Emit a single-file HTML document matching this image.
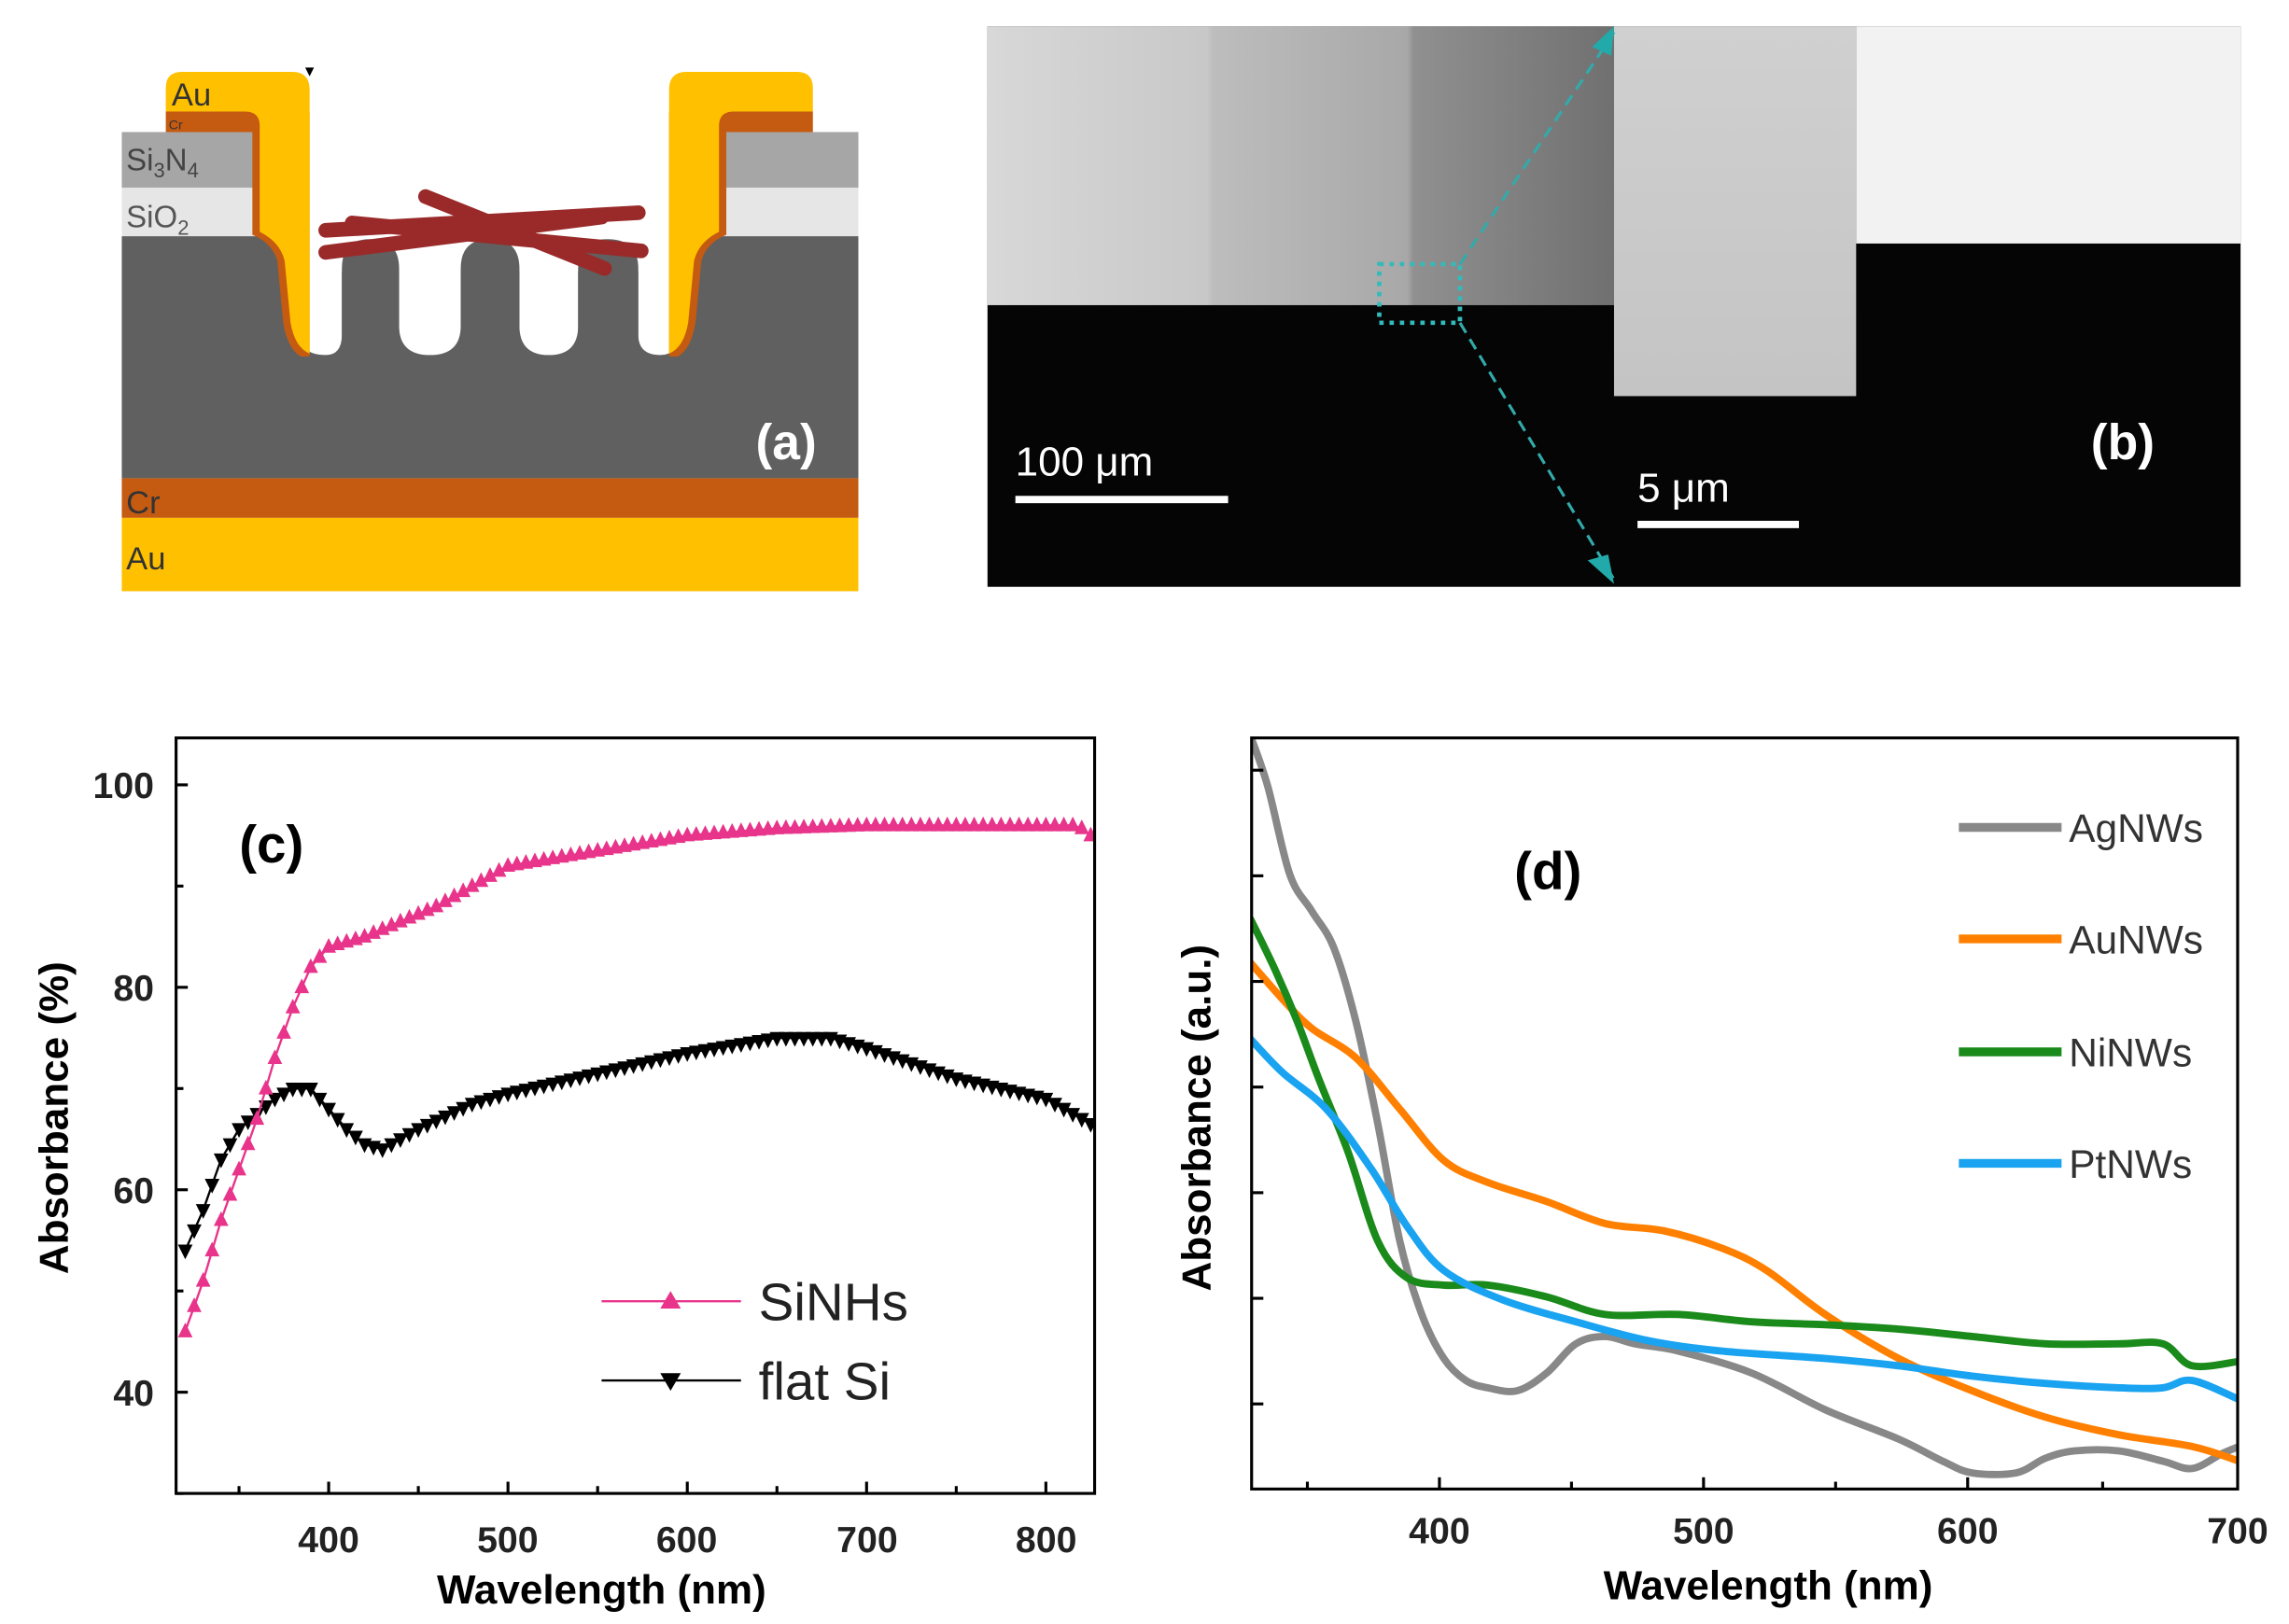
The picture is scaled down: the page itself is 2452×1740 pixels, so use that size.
<!DOCTYPE html>
<html><head><meta charset="utf-8"><style>
html,body{margin:0;padding:0;background:#fff;}
svg{display:block;}
text{font-family:"Liberation Sans",Arial,sans-serif;}
</style></head><body>
<svg id="s" width="2452" height="1740" viewBox="0 0 1560 1107" xmlns="http://www.w3.org/2000/svg">
<defs>
<linearGradient id="g1" x1="0" x2="1" y1="0" y2="0"><stop offset="0" stop-color="#d8d8d8"/><stop offset="0.35" stop-color="#c8c8c8"/><stop offset="0.36" stop-color="#bdbdbd"/><stop offset="0.67" stop-color="#a8a8a8"/><stop offset="0.68" stop-color="#909090"/><stop offset="1" stop-color="#707070"/></linearGradient>
<linearGradient id="g2" x1="0" x2="0" y1="0" y2="1"><stop offset="0" stop-color="#d0d0d0"/><stop offset="1" stop-color="#c4c4c4"/></linearGradient>
<clipPath id="cpd"><rect x="853" y="503" width="672" height="512"/></clipPath>
<clipPath id="cpc"><rect x="120" y="503" width="626" height="515"/></clipPath>
</defs>
<!-- Panel a -->
<rect x="83" y="161" width="502" height="165" fill="#606060"/>
<rect x="83" y="90" width="100" height="38" fill="#a6a6a6"/>
<rect x="83" y="128" width="100" height="33" fill="#e6e6e6"/>
<rect x="485" y="90" width="100" height="38" fill="#a6a6a6"/>
<rect x="485" y="128" width="100" height="33" fill="#e6e6e6"/>
<rect x="83" y="326" width="502" height="27" fill="#c55a11"/>
<rect x="83" y="353" width="502" height="50" fill="#ffc000"/>
<rect x="205" y="150" width="257" height="35" fill="#fff"/>
<g fill="#fff">
<path d="M205,158 L205,228 Q205,242 222,242 Q233,242 233,228 L233,158 Z"/>
<path d="M272,158 L272,222 Q272,242 293,242 Q314,242 314,222 L314,158 Z"/>
<path d="M354,158 L354,222 Q354,242 374,242 Q394,242 394,222 L394,158 Z"/>
<path d="M435,158 L435,228 Q435,242 450,242 Q462,242 462,228 L462,158 Z"/>
</g>
<g fill="#606060">
<path d="M233,245 L233,183 Q233,163 252,163 Q272,163 272,183 L272,245 Z"/>
<path d="M314,245 L314,183 Q314,163 334,163 Q354,163 354,183 L354,245 Z"/>
<path d="M394,245 L394,183 Q394,163 414,163 Q435,163 435,183 L435,245 Z"/>
</g>
<g id="contact">
<path d="M113,76 L113,90 L172,90 L172,160 Q186,166 189,178 L193,220 Q196,238 205,243 L211,243 L211,76 Z" fill="#c55a11"/>
<path d="M113,60 Q113,49 124,49 L199,49 Q211,49 211,61 L211,241 Q201,237 198,220 L194,178 Q191,165 177,158 L177,86 Q177,76 167,76 L113,76 Z" fill="#ffc000"/>
</g>
<use href="#contact" transform="translate(667,0) scale(-1,1)"/>
<g stroke="#9a2a2a" stroke-width="10" stroke-linecap="round">
<line x1="222" y1="157" x2="435" y2="145"/>
<line x1="222" y1="172" x2="410" y2="148"/>
<line x1="290" y1="134" x2="412" y2="183"/>
<line x1="240" y1="152" x2="437" y2="171"/>
</g>
<polygon points="208,46 214,46 211,52" fill="#000"/>
<text x="117" y="72" font-size="22" fill="#333">Au</text>
<text x="115" y="88" font-size="9" fill="#333">Cr</text>
<text x="86" y="116" font-size="21" fill="#444">Si<tspan font-size="14" dy="5">3</tspan><tspan dy="-5">N</tspan><tspan font-size="14" dy="5">4</tspan></text>
<text x="86" y="155" font-size="21" fill="#555">SiO<tspan font-size="14" dy="5">2</tspan></text>
<text x="86" y="350" font-size="22" fill="#333">Cr</text>
<text x="86" y="388" font-size="22" fill="#333">Au</text>
<text x="515" y="313" font-size="34" font-weight="bold" fill="#fff">(a)</text>
<!-- Panel b -->
<rect x="673" y="18" width="854" height="382" fill="#050505"/>
<rect x="673" y="18" width="427" height="190" fill="url(#g1)"/>
<rect x="1100" y="18" width="165" height="252" fill="url(#g2)"/>
<rect x="1265" y="18" width="262" height="148" fill="#f2f2f2"/>
<rect x="940" y="180" width="55" height="40" fill="none" stroke="#3bb" stroke-width="3" stroke-dasharray="3,4"/>
<line x1="995" y1="180" x2="1100" y2="22" stroke="#3aa" stroke-width="2" stroke-dasharray="8,5"/>
<line x1="995" y1="220" x2="1100" y2="395" stroke="#3aa" stroke-width="2" stroke-dasharray="8,5"/>
<polygon points="1100,18 1085,32 1098,38" fill="#2aa"/>
<polygon points="1100,398 1082,382 1096,378" fill="#2aa"/>
<rect x="692" y="338" width="145" height="5" fill="#fff"/>
<text x="692" y="324" font-size="28" fill="#fff">100 μm</text>
<rect x="1116" y="355" width="110" height="5" fill="#fff"/>
<text x="1116" y="342" font-size="28" fill="#fff">5 μm</text>
<text x="1425" y="313" font-size="34" font-weight="bold" fill="#fff">(b)</text>
<!-- Panel c -->
<g id="pc" clip-path="url(#cpc)"></g>
<g id="pct"></g>
<rect x="120" y="503" width="626" height="515" fill="none" stroke="#000" stroke-width="2"/>
<text x="185" y="588" font-size="36" font-weight="bold" text-anchor="middle">(c)</text>
<g font-size="25" font-weight="bold" text-anchor="end" fill="#222">
<text x="105" y="544">100</text><text x="105" y="682">80</text><text x="105" y="820">60</text><text x="105" y="958">40</text></g>
<g font-size="25" font-weight="bold" text-anchor="middle" fill="#222">
<text x="224" y="1058">400</text><text x="346" y="1058">500</text><text x="468" y="1058">600</text><text x="591" y="1058">700</text><text x="713" y="1058">800</text></g>
<text x="410" y="1093" font-size="28" font-weight="bold" text-anchor="middle">Wavelength (nm)</text>
<text transform="translate(46,762) rotate(-90)" font-size="28" font-weight="bold" text-anchor="middle">Absorbance (%)</text>
<line x1="410" y1="887" x2="505" y2="887" stroke="#e8348a" stroke-width="1.5"/>
<polygon points="457,880 450,892 464,892" fill="#e8348a"/>
<text x="517" y="900" font-size="36" fill="#222">SiNHs</text>
<line x1="410" y1="941" x2="505" y2="941" stroke="#000" stroke-width="1.5"/>
<polygon points="457,948 450,936 464,936" fill="#000"/>
<text x="517" y="954" font-size="36" fill="#222">flat Si</text>
<!-- Panel d -->
<g id="pd" clip-path="url(#cpd)"></g>
<g id="pdt"></g>
<rect x="853" y="503" width="672" height="512" fill="none" stroke="#000" stroke-width="2"/>
<text x="1055" y="606" font-size="36" font-weight="bold" text-anchor="middle">(d)</text>
<g font-size="25" font-weight="bold" text-anchor="middle" fill="#222">
<text x="981" y="1052">400</text><text x="1161" y="1052">500</text><text x="1341" y="1052">600</text><text x="1525" y="1052">700</text></g>
<text x="1205" y="1090" font-size="28" font-weight="bold" text-anchor="middle">Wavelength (nm)</text>
<text transform="translate(825,762) rotate(-90)" font-size="28" font-weight="bold" text-anchor="middle">Absorbance (a.u.)</text>
<g stroke-width="6">
<line x1="1335" y1="564" x2="1405" y2="564" stroke="#888"/>
<line x1="1335" y1="640" x2="1405" y2="640" stroke="#ff8000"/>
<line x1="1335" y1="717" x2="1405" y2="717" stroke="#1a8a1a"/>
<line x1="1335" y1="793" x2="1405" y2="793" stroke="#1aa3f0"/>
</g>
<g font-size="27" fill="#333">
<text x="1410" y="574">AgNWs</text><text x="1410" y="650">AuNWs</text><text x="1410" y="727">NiNWs</text><text x="1410" y="803">PtNWs</text></g>
</svg>
<script>
var NS="http://www.w3.org/2000/svg";
function el(p,t,a){var e=document.createElementNS(NS,t);for(var k in a)e.setAttribute(k,a[k]);p.appendChild(e);return e;}
var pc=document.getElementById('pc'),pd=document.getElementById('pd'),pct=document.getElementById('pct'),pdt=document.getElementById('pdt');
function cx(w){return 224+(w-400)*1.222;} function cy(v){return 535+(100-v)*6.9;}
[40,60,80,100].forEach(function(v){el(pct,'line',{x1:120,x2:128,y1:cy(v),y2:cy(v),stroke:'#000','stroke-width':2});});
[30,50,70,90].forEach(function(v){el(pct,'line',{x1:120,x2:125,y1:cy(v),y2:cy(v),stroke:'#000','stroke-width':2});});
[400,500,600,700,800].forEach(function(w){el(pct,'line',{x1:cx(w),x2:cx(w),y1:1018,y2:1010,stroke:'#000','stroke-width':2});});
[350,450,550,650,750].forEach(function(w){el(pct,'line',{x1:cx(w),x2:cx(w),y1:1018,y2:1013,stroke:'#000','stroke-width':2});});
function interp(d,w){for(var i=0;i<d.length-1;i++){if(w<=d[i+1][0]){var t=(w-d[i][0])/(d[i+1][0]-d[i][0]);return d[i][1]+t*(d[i+1][1]-d[i][1]);}}return d[d.length-1][1];}
var A=[[320,46],[330,51],[340,57],[350,62],[360,67],[370,73],[380,78],[390,82],[400,84],[420,85],[440,86.5],[460,88],[480,90],[500,92],[550,93.5],[600,95],[650,95.7],[700,96],[800,96],[818,96],[825,95]];
var B=[[320,54],[330,58],[340,63],[350,66],[360,67.5],[370,69],[380,70],[390,70],[400,68],[410,66],[420,64.5],[430,64],[450,66],[480,68.5],[500,69.5],[550,71.5],[600,73.5],[650,75],[680,75],[700,74],[750,71],[800,69],[825,66.5]];
function series(d,col,up){var pts=[];for(var w=320;w<=825;w+=5){var x=cx(w),y=cy(interp(d,w));pts.push(x.toFixed(1)+','+y.toFixed(1));
 if(up)el(pc,'polygon',{points:x+','+(y-6)+' '+(x-5)+','+(y+4)+' '+(x+5)+','+(y+4),fill:col});
 else el(pc,'polygon',{points:x+','+(y+6)+' '+(x-5)+','+(y-4)+' '+(x+5)+','+(y-4),fill:col});}
 el(pc,'polyline',{points:pts.join(' '),fill:'none',stroke:col,'stroke-width':1.5});}
series(B,'#000',false);series(A,'#e8348a',true);
for(var y=525;y<1015;y+=72){el(pdt,'line',{x1:853,x2:861,y1:y,y2:y,stroke:'#000','stroke-width':2});}
[981,1161,1341].forEach(function(x){el(pdt,'line',{x1:x,x2:x,y1:1015,y2:1007,stroke:'#000','stroke-width':2});});
[891,1071,1251,1433].forEach(function(x){el(pdt,'line',{x1:x,x2:x,y1:1015,y2:1010,stroke:'#000','stroke-width':2});});
var gd=el(pd,'g',{transform:'translate(-6,-4)'});
function curve(p,col){var s='M'+p[0][0]+','+p[0][1];for(var i=1;i<p.length;i++){var p0=p[i-2]||p[i-1],p1=p[i-1],p2=p[i],p3=p[i+1]||p[i];
 s+=' C'+(p1[0]+(p2[0]-p0[0])/6)+','+(p1[1]+(p2[1]-p0[1])/6)+' '+(p2[0]-(p3[0]-p1[0])/6)+','+(p2[1]-(p3[1]-p1[1])/6)+' '+p2[0]+','+p2[1];}
 el(gd,'path',{d:s,fill:'none',stroke:col,'stroke-width':5,'stroke-linejoin':'round'});}
curve([[858,505],[870,540],[885,600],[900,625],[915,650],[930,700],[945,770],[960,850],[975,900],[990,930],[1005,945],[1020,950],[1040,952],[1060,940],[1080,920],[1100,915],[1120,920],[1150,925],[1200,940],[1250,965],[1300,985],[1330,1000],[1350,1008],[1380,1008],[1400,998],[1420,993],[1450,993],[1480,1000],[1500,1005],[1520,995],[1532,990]],'#888');
curve([[858,660],[880,685],[900,705],[930,725],[960,760],[990,795],[1020,810],[1060,823],[1100,838],[1140,843],[1180,855],[1210,870],[1250,900],[1300,930],[1350,952],[1400,970],[1450,982],[1500,990],[1532,1000]],'#ff8000');
curve([[858,630],[875,665],[890,700],[905,740],[925,790],[945,850],[965,875],[990,880],[1020,880],[1060,888],[1100,900],[1150,900],[1200,905],[1250,907],[1300,910],[1350,915],[1400,920],[1450,920],[1480,920],[1500,935],[1532,932]],'#1a8a1a');
curve([[858,712],[880,735],[910,760],[940,800],[965,840],[990,870],[1030,890],[1080,905],[1130,918],[1180,925],[1250,930],[1300,935],[1350,942],[1400,947],[1450,950],[1480,950],[1500,945],[1532,958]],'#1aa3f0');
</script>
</body></html>
